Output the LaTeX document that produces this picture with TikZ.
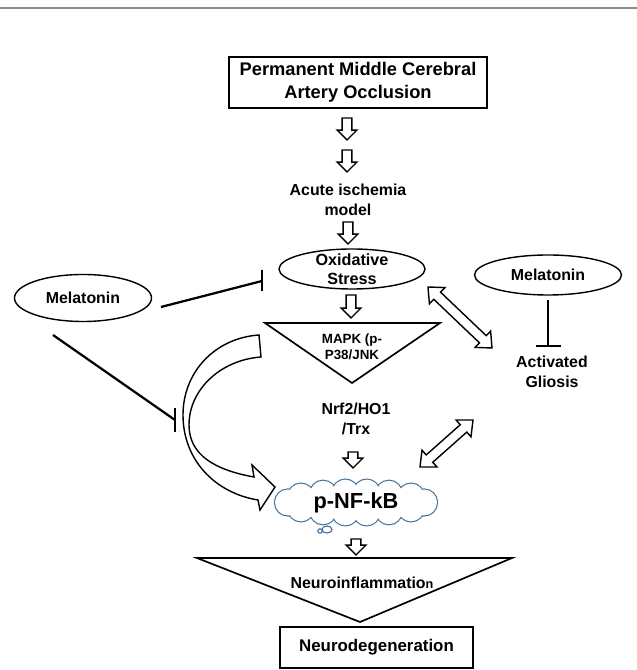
\documentclass[tikz,border=0pt]{standalone}
\usepackage{fontspec}
\setmainfont{Liberation Sans}
\usepackage{tikz}
\usetikzlibrary{arrows.meta,calc,shapes.geometric}
\definecolor{cloudblue}{HTML}{41719C}
\definecolor{rulegray}{HTML}{8C8C8C}
\tikzset{
  box/.style={rectangle, draw, line width=1.4pt, align=center},
  oval/.style={ellipse, draw, line width=1pt},
  tri/.style={draw, line width=1.2pt, line join=miter},
  txt/.style={align=center, font=\bfseries\fontsize{11.3}{14}\selectfont},
  smalltxt/.style={align=center, font=\bfseries\fontsize{9.5}{11.5}\selectfont},
  blockline/.style={draw, fill=white, line width=1pt, line join=miter},
  inhib/.style={line width=1.6pt},
  puff/.style={draw=cloudblue, line width=1.6pt}
}
% hollow block arrow from #1 to #2
\newcommand{\hollowarrow}[2]{%
  \coordinate (ha-h) at ($(#2)!7pt!(#1)$);
  \draw[blockline] ($(#1)!3.5pt!90:(#2)$) -- ($(ha-h)!3.5pt!90:(#2)$)
    -- ($(ha-h)!7pt!90:(#2)$) -- (#2) -- ($(ha-h)!7pt!-90:(#2)$)
    -- ($(ha-h)!3.5pt!-90:(#2)$) -- ($(#1)!3.5pt!-90:(#2)$) -- cycle;}
% hollow two-headed arrow between #1 and #2
\newcommand{\twowayarrow}[2]{%
  \coordinate (tw-a) at ($(#1)!9pt!(#2)$);
  \coordinate (tw-b) at ($(#2)!9pt!(#1)$);
  \draw[blockline] (#1) -- ($(tw-a)!8pt!90:(#2)$) -- ($(tw-a)!3.5pt!90:(#2)$)
    -- ($(tw-b)!3.5pt!-90:(#1)$) -- ($(tw-b)!8pt!-90:(#1)$) -- (#2)
    -- ($(tw-b)!8pt!90:(#1)$) -- ($(tw-b)!3.5pt!90:(#1)$)
    -- ($(tw-a)!3.5pt!-90:(#2)$) -- ($(tw-a)!8pt!-90:(#2)$) -- cycle;}

\begin{document}
\begin{tikzpicture}[x=0.025cm, y=0.025cm]
  \useasboundingbox (0,0) rectangle (637,670);
  \draw[rulegray, line width=1pt] (0,662) -- (637,662);

  % main column
  \node[box, line width=1.6pt, minimum width=6.45cm, minimum height=1.275cm,
    font=\bfseries\fontsize{13}{16.4}\selectfont] (pmca) at (358,587.5)
    {Permanent Middle Cerebral\\Artery Occlusion};
  \node[txt] (acute) at (348,470) {Acute ischemia\\model};
  \node[oval, minimum width=3.65cm, minimum height=1cm,
    label={[txt, font=\bfseries\fontsize{11.5}{13.5}\selectfont]center:Oxidative\\Stress}] (oxid) at (352,401) {};
  \coordinate (mapk-l) at (265,347);
  \coordinate (mapk-r) at (440,347);
  \coordinate (mapk-b) at (352,287);
  \draw[tri] (mapk-l) -- (mapk-r) -- (mapk-b) -- cycle;
  \node[smalltxt] (mapk) at (352,323) {MAPK (p-\\P38/JNK};
  \node[txt] (nrf) at (356,251) {Nrf2/HO1\\/Trx};

  % cloud round p-NF-kB
  \coordinate (cloudc) at (356,167.5);
  \foreach \t in {0,36,61,81,99,119,144,180,216,241,261,279,299,324}
    \draw[puff] ($(cloudc)+({68*cos(\t)},{10*sin(\t)})$) circle [radius=13];
  \foreach \t in {0,36,61,81,99,119,144,180,216,241,261,279,299,324}
    \fill[white] ($(cloudc)+({68*cos(\t)},{10*sin(\t)})$) circle [radius=13];
  \fill[white] (cloudc) ellipse [x radius=68, y radius=10];
  \draw[cloudblue, line width=0.8pt] ($(cloudc)+(-29,-27)$) ellipse [x radius=5, y radius=3.5];
  \draw[cloudblue, line width=0.8pt] ($(cloudc)+(-36,-28.5)$) circle [radius=2.2];
  \node[font=\bfseries\fontsize{15.5}{18}\selectfont] (nfkb) at (cloudc) {p-NF-kB};

  \coordinate (ni-l) at (197,112);
  \coordinate (ni-r) at (512,112);
  \coordinate (ni-b) at (360,48);
  \draw[tri] (ni-l) -- (ni-r) -- (ni-b) -- cycle;
  \node[txt] (neuroinf) at (362,87) {Neuroinflammatio{\fontsize{9}{9}\selectfont n}};
  \node[box, line width=1.3pt, minimum width=4.825cm, minimum height=1.025cm,
    font=\bfseries\fontsize{12}{14}\selectfont] (neurodeg) at (376.5,22.5) {Neurodegeneration};

  % side nodes
  \node[oval, minimum width=3.425cm, minimum height=1.175cm,
    label={[txt]center:Melatonin}] (mel1) at (83,372) {};
  \node[oval, minimum width=3.675cm, minimum height=1cm,
    label={[txt]center:Melatonin}] (mel2) at (548,395) {};
  \node[txt] (gliosis) at (552,298) {Activated\\Gliosis};

  % block arrows down the column
  \coordinate (a1s) at (347,552); \coordinate (a1e) at (347,530);
  \coordinate (a2s) at (347,520); \coordinate (a2e) at (347,498);
  \coordinate (a3s) at (348,448); \coordinate (a3e) at (348,426);
  \coordinate (a4s) at (351,375); \coordinate (a4e) at (351,352);
  \coordinate (a5s) at (353,218); \coordinate (a5e) at (353,202);
  \coordinate (a6s) at (356,131); \coordinate (a6e) at (356,115);
  \hollowarrow{a1s}{a1e}
  \hollowarrow{a2s}{a2e}
  \hollowarrow{a3s}{a3e}
  \hollowarrow{a4s}{a4e}
  \hollowarrow{a5s}{a5e}
  \hollowarrow{a6s}{a6e}

  % two-way arrows to gliosis
  \coordinate (d1a) at (428,383); \coordinate (d1b) at (492,322);
  \coordinate (d2a) at (420,203); \coordinate (d2b) at (473,250);
  \twowayarrow{d1a}{d1b}
  \twowayarrow{d2a}{d2b}

  % curved arrow MAPK -> p-NF-kB
  \draw[blockline] (259,335) .. controls (215,332) and (183,298) .. (183,255)
    .. controls (183,210) and (215,177) .. (258,170) -- (260,160) -- (275,183)
    -- (252,205) -- (254,193) .. controls (215,200) and (189,215) .. (189,245)
    .. controls (189,280) and (220,310) .. (261,313) -- cycle;

  % inhibition by melatonin
  \coordinate (m1a) at (161,363); \coordinate (m1b) at (262,389);
  \coordinate (m2a) at (53,335);  \coordinate (m2b) at (175,250);
  \coordinate (m3a) at (548,370); \coordinate (m3b) at (548,324);
  \draw[inhib] (m1a) -- (m1b);
  \draw[inhib] ($(m1b)+(0,10.5)$) -- ($(m1b)+(0,-10.5)$);
  \draw[inhib] (m2a) -- (m2b);
  \draw[inhib] ($(m2b)+(0,12)$) -- ($(m2b)+(0,-12)$);
  \draw[inhib] (m3a) -- (m3b);
  \draw[inhib] ($(m3b)+(-12.5,0)$) -- ($(m3b)+(12.5,0)$);
\end{tikzpicture}
\end{document}
